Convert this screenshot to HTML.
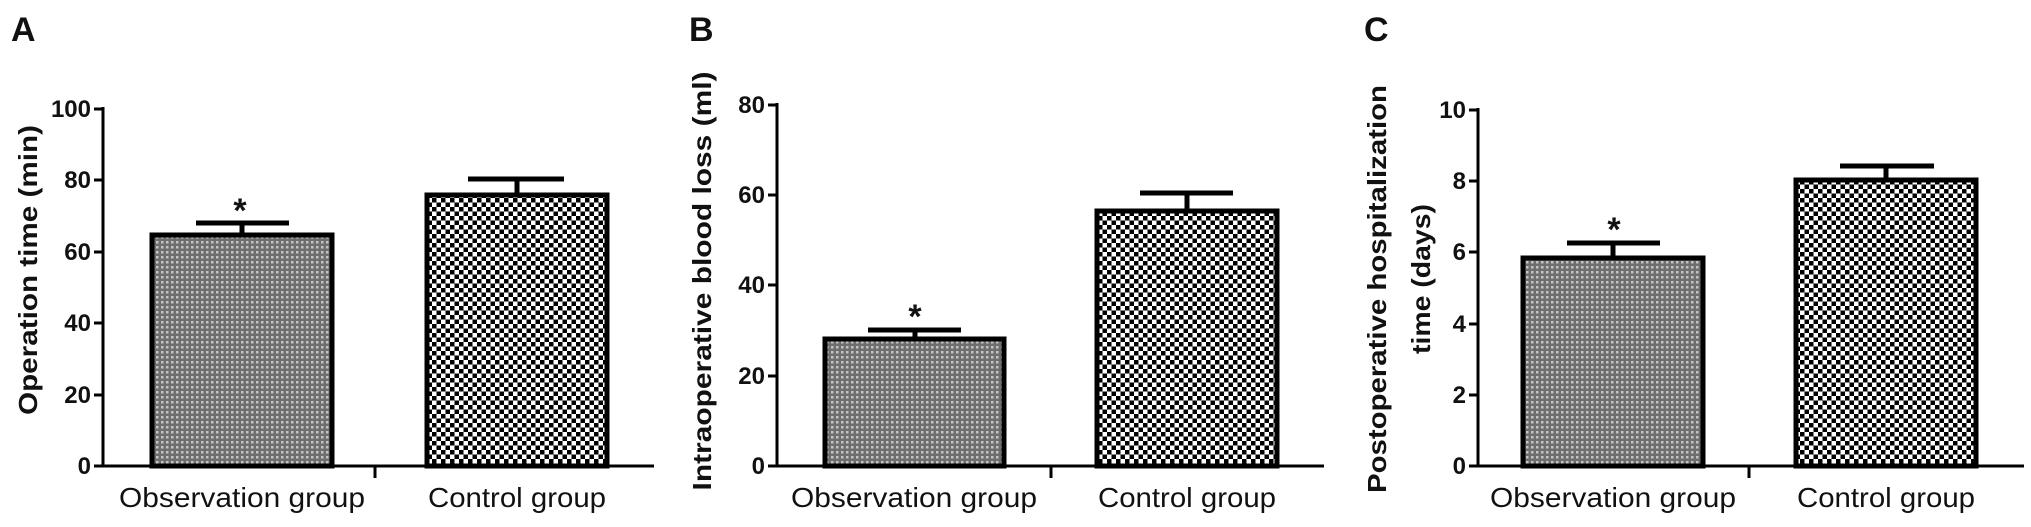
<!DOCTYPE html>
<html><head><meta charset="utf-8"><style>
html,body{margin:0;padding:0;background:#fff;}
svg{display:block;}
text{font-family:"Liberation Sans",Arial,sans-serif;fill:#111;}
.t{font-size:24px;font-weight:bold;text-anchor:end;}
.c{font-size:28px;text-anchor:middle;}
.y{font-size:26px;font-weight:bold;text-anchor:middle;}
.L{font-size:34px;font-weight:bold;}
</style></head><body>
<svg width="2031" height="527" viewBox="0 0 2031 527" xmlns="http://www.w3.org/2000/svg">
<defs>
<pattern id="chk" width="9" height="9" patternUnits="userSpaceOnUse">
<rect width="9" height="9" fill="#fff"/>
<rect x="0" y="0" width="4.5" height="4.5" fill="#000"/>
<rect x="4.5" y="4.5" width="4.5" height="4.5" fill="#000"/>
</pattern>
<pattern id="fine" width="5" height="5" patternUnits="userSpaceOnUse">
<rect width="5" height="5" fill="#6e6e6e"/>
<rect x="1" y="1" width="2.5" height="2.5" fill="#c4c4c4"/>
</pattern>
</defs>

<!-- Panel A -->
<g>
<text x="11" y="41" class="L">A</text>
<text class="y" transform="translate(37,270) rotate(-90)" textLength="290" lengthAdjust="spacingAndGlyphs">Operation time (min)</text>
<g stroke="#000" stroke-width="3" fill="none">
<line x1="103" y1="107" x2="103" y2="467"/>
<line x1="94" y1="466" x2="654" y2="466"/>
<line x1="94" y1="109" x2="103" y2="109"/>
<line x1="94" y1="180" x2="103" y2="180"/>
<line x1="94" y1="252" x2="103" y2="252"/>
<line x1="94" y1="323" x2="103" y2="323"/>
<line x1="94" y1="395" x2="103" y2="395"/>
<line x1="375" y1="466" x2="375" y2="478"/>
</g>
<text x="91" y="117" class="t">100</text>
<text x="91" y="188" class="t">80</text>
<text x="91" y="260" class="t">60</text>
<text x="91" y="331" class="t">40</text>
<text x="91" y="403" class="t">20</text>
<text x="91" y="474" class="t">0</text>
<rect x="152" y="235" width="180" height="231" fill="url(#fine)" stroke="#000" stroke-width="5"/>
<rect x="427" y="195" width="180" height="271" fill="url(#chk)" stroke="#000" stroke-width="5"/>
<g stroke="#000" stroke-width="5">
<line x1="242" y1="233" x2="242" y2="223"/><line x1="196" y1="223" x2="289" y2="223"/>
<line x1="517" y1="193" x2="517" y2="179"/><line x1="468" y1="179" x2="564" y2="179"/>
</g>
<text x="240" y="222" style="font-size:34px;font-weight:bold;text-anchor:middle">*</text>
<text x="242" y="507" class="c" textLength="246" lengthAdjust="spacingAndGlyphs">Observation group</text>
<text x="517" y="507" class="c" textLength="178" lengthAdjust="spacingAndGlyphs">Control group</text>
</g>

<!-- Panel B -->
<g>
<text x="689" y="41" class="L">B</text>
<text class="y" transform="translate(711,281) rotate(-90)" textLength="419" lengthAdjust="spacingAndGlyphs">Intraoperative blood loss (ml)</text>
<g stroke="#000" stroke-width="3" fill="none">
<line x1="777" y1="103" x2="777" y2="467"/>
<line x1="768" y1="466" x2="1324" y2="466"/>
<line x1="768" y1="105" x2="777" y2="105"/>
<line x1="768" y1="195" x2="777" y2="195"/>
<line x1="768" y1="285" x2="777" y2="285"/>
<line x1="768" y1="376" x2="777" y2="376"/>
<line x1="1051" y1="466" x2="1051" y2="478"/>
</g>
<text x="765" y="113" class="t">80</text>
<text x="765" y="203" class="t">60</text>
<text x="765" y="293" class="t">40</text>
<text x="765" y="384" class="t">20</text>
<text x="765" y="474" class="t">0</text>
<rect x="825" y="339" width="179" height="127" fill="url(#fine)" stroke="#000" stroke-width="5"/>
<rect x="1097" y="211" width="180" height="255" fill="url(#chk)" stroke="#000" stroke-width="5"/>
<g stroke="#000" stroke-width="5">
<line x1="915" y1="337" x2="915" y2="330"/><line x1="868" y1="330" x2="961" y2="330"/>
<line x1="1187" y1="209" x2="1187" y2="193"/><line x1="1140" y1="193" x2="1233" y2="193"/>
</g>
<text x="915" y="328" style="font-size:34px;font-weight:bold;text-anchor:middle">*</text>
<text x="914" y="507" class="c" textLength="246" lengthAdjust="spacingAndGlyphs">Observation group</text>
<text x="1187" y="507" class="c" textLength="178" lengthAdjust="spacingAndGlyphs">Control group</text>
</g>

<!-- Panel C -->
<g>
<text x="1364" y="41" class="L">C</text>
<text class="y" transform="translate(1386,289) rotate(-90)" textLength="408" lengthAdjust="spacingAndGlyphs">Postoperative hospitalization</text>
<text class="y" transform="translate(1430,279) rotate(-90)" textLength="150" lengthAdjust="spacingAndGlyphs">time (days)</text>
<g stroke="#000" stroke-width="3" fill="none">
<line x1="1478" y1="108" x2="1478" y2="467"/>
<line x1="1469" y1="466" x2="2024" y2="466"/>
<line x1="1469" y1="110" x2="1478" y2="110"/>
<line x1="1469" y1="181" x2="1478" y2="181"/>
<line x1="1469" y1="252" x2="1478" y2="252"/>
<line x1="1469" y1="324" x2="1478" y2="324"/>
<line x1="1469" y1="395" x2="1478" y2="395"/>
<line x1="1749" y1="466" x2="1749" y2="478"/>
</g>
<text x="1466" y="118" class="t">10</text>
<text x="1466" y="189" class="t">8</text>
<text x="1466" y="260" class="t">6</text>
<text x="1466" y="332" class="t">4</text>
<text x="1466" y="403" class="t">2</text>
<text x="1466" y="474" class="t">0</text>
<rect x="1523" y="258" width="180" height="208" fill="url(#fine)" stroke="#000" stroke-width="5"/>
<rect x="1796" y="180" width="180" height="286" fill="url(#chk)" stroke="#000" stroke-width="5"/>
<g stroke="#000" stroke-width="5">
<line x1="1613" y1="256" x2="1613" y2="243"/><line x1="1567" y1="243" x2="1660" y2="243"/>
<line x1="1886" y1="178" x2="1886" y2="166"/><line x1="1840" y1="166" x2="1934" y2="166"/>
</g>
<text x="1614" y="241" style="font-size:34px;font-weight:bold;text-anchor:middle">*</text>
<text x="1613" y="507" class="c" textLength="246" lengthAdjust="spacingAndGlyphs">Observation group</text>
<text x="1886" y="507" class="c" textLength="178" lengthAdjust="spacingAndGlyphs">Control group</text>
</g>
</svg>
</body></html>
